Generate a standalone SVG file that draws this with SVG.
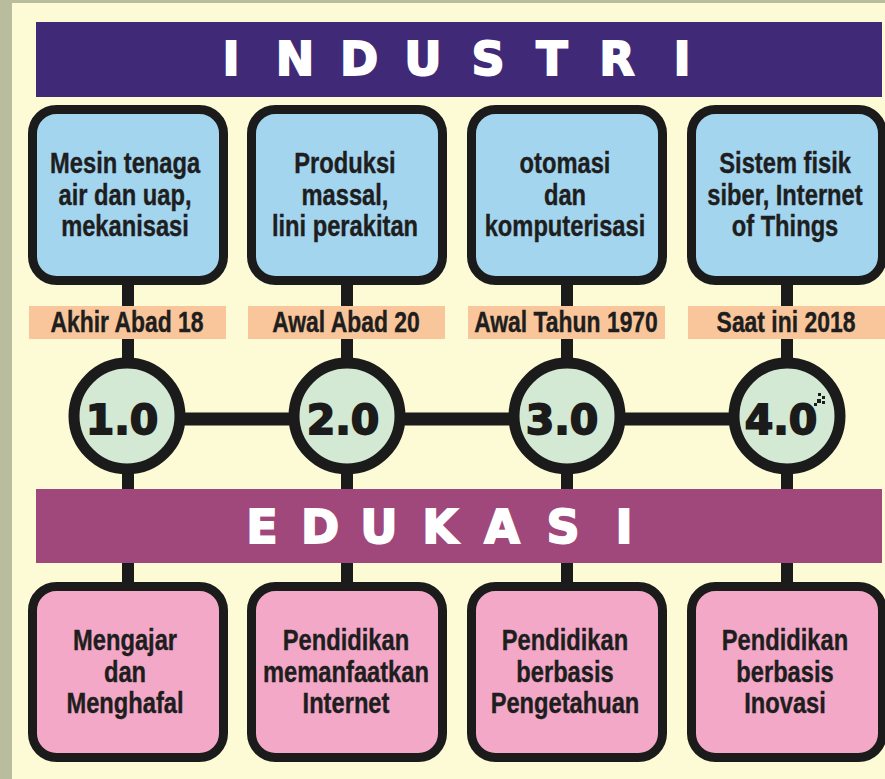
<svg xmlns="http://www.w3.org/2000/svg" width="885" height="779" viewBox="0 0 885 779">
  <style>
    .box { stroke: #1b1b1b; stroke-width: 9; }
    .top { fill: #a4d5ef; }
    .bot { fill: #f4a8c7; }
    .txt { font-family: "Liberation Sans", Arial, sans-serif; font-weight: bold; font-size: 30px; fill: #1e1e1e; stroke: #1e1e1e; stroke-width: 0.4; text-anchor: middle; transform-box: fill-box; transform-origin: center; transform: scaleX(0.79); }
    .date { fill: #f9c69b; }
    .dtxt { font-family: "Liberation Sans", Arial, sans-serif; font-weight: bold; font-size: 29px; fill: #1e1e1e; stroke: #1e1e1e; stroke-width: 0.4; text-anchor: middle; transform-box: fill-box; transform-origin: center; transform: scaleX(0.79); }
    .circ { fill: #d3e9d3; stroke: #1b1b1b; stroke-width: 11; }
    .num { font-family: "DejaVu Sans", sans-serif; font-weight: bold; font-size: 41px; fill: #1b1b1b; stroke: #1b1b1b; stroke-width: 1.8; text-anchor: middle; }
    .head { font-family: "DejaVu Sans", sans-serif; font-weight: bold; font-size: 46px; fill: #ffffff; stroke: #ffffff; stroke-width: 1.8; text-anchor: middle; }
    .conn { stroke: #1b1b1b; fill: none; }
  </style>
  <rect x="0" y="0" width="885" height="779" fill="#b9bd9d"/>
  <rect x="12" y="3" width="873" height="776" fill="#fdfad6"/>

  <g id="connectors">
    <line class="conn" x1="128" y1="285" x2="128" y2="585" stroke-width="12"/>
    <line class="conn" x1="347" y1="285" x2="347" y2="585" stroke-width="12"/>
    <line class="conn" x1="567" y1="285" x2="567" y2="585" stroke-width="12"/>
    <line class="conn" x1="787" y1="285" x2="787" y2="585" stroke-width="12"/>
    <line class="conn" x1="128" y1="419" x2="787" y2="419" stroke-width="13"/>
  </g>

  <g id="industri-bar">
    <rect x="36" y="22" width="846" height="75" fill="#402a78"/>
    <text class="head" x="231 295 359 423 488 552 617 682" y="75">INDUSTRI</text>
  </g>

  <g id="ind1">
    <rect class="box top" x="32.5" y="109.5" width="191" height="171" rx="24"/>
    <text class="txt" x="125" y="173">Mesin tenaga</text>
    <text class="txt" x="125" y="205">air dan uap,</text>
    <text class="txt" x="125" y="236">mekanisasi</text>
  </g>
  <g id="ind2">
    <rect class="box top" x="251.5" y="109.5" width="191" height="171" rx="24"/>
    <text class="txt" x="345" y="173">Produksi</text>
    <text class="txt" x="345" y="205">massal,</text>
    <text class="txt" x="345" y="236">lini perakitan</text>
  </g>
  <g id="ind3">
    <rect class="box top" x="471.5" y="109.5" width="191" height="171" rx="24"/>
    <text class="txt" x="565" y="173">otomasi</text>
    <text class="txt" x="565" y="205">dan</text>
    <text class="txt" x="565" y="236">komputerisasi</text>
  </g>
  <g id="ind4">
    <rect class="box top" x="691.5" y="109.5" width="191" height="171" rx="24"/>
    <text class="txt" x="785" y="173">Sistem fisik</text>
    <text class="txt" x="785" y="205">siber, Internet</text>
    <text class="txt" x="785" y="236">of Things</text>
  </g>

  <g id="date1">
    <rect class="date" x="29" y="306" width="197" height="33"/>
    <text class="dtxt" x="127" y="332">Akhir Abad 18</text>
  </g>
  <g id="date2">
    <rect class="date" x="248" y="306" width="197" height="33"/>
    <text class="dtxt" x="346" y="332">Awal Abad 20</text>
  </g>
  <g id="date3">
    <rect class="date" x="468" y="306" width="197" height="33"/>
    <text class="dtxt" x="566" y="332">Awal Tahun 1970</text>
  </g>
  <g id="date4">
    <rect class="date" x="688" y="306" width="197" height="33"/>
    <text class="dtxt" x="786" y="332">Saat ini 2018</text>
  </g>

  <g id="v1">
    <circle class="circ" cx="127" cy="416" r="53"/>
    <text class="num" x="122" y="434">1.0</text>
  </g>
  <g id="v2">
    <circle class="circ" cx="347" cy="416" r="53"/>
    <text class="num" x="343" y="434">2.0</text>
  </g>
  <g id="v3">
    <circle class="circ" cx="567" cy="416" r="53"/>
    <text class="num" x="562" y="434">3.0</text>
  </g>
  <g id="v4">
    <circle class="circ" cx="787" cy="416" r="53"/>
    <text class="num" x="781" y="434">4.0</text>
    <g fill="#1b1b1b">
      <rect x="818" y="393" width="3" height="3"/>
      <rect x="822" y="396" width="3" height="3"/>
      <rect x="817" y="399" width="4" height="4"/>
      <rect x="822" y="401" width="3" height="3"/>
      <rect x="814" y="403" width="3" height="3"/>
    </g>
  </g>

  <g id="edukasi-bar">
    <rect x="36" y="489" width="846" height="74" fill="#a0477b"/>
    <text class="head" x="262 320 379 440 502 563 624" y="543">EDUKASI</text>
  </g>

  <g id="edu1">
    <rect class="box bot" x="32.5" y="586.5" width="191" height="171" rx="24"/>
    <text class="txt" x="125" y="650">Mengajar</text>
    <text class="txt" x="125" y="682">dan</text>
    <text class="txt" x="125" y="713">Menghafal</text>
  </g>
  <g id="edu2">
    <rect class="box bot" x="251.5" y="586.5" width="191" height="171" rx="24"/>
    <text class="txt" x="346" y="650">Pendidikan</text>
    <text class="txt" x="346" y="682">memanfaatkan</text>
    <text class="txt" x="346" y="713">Internet</text>
  </g>
  <g id="edu3">
    <rect class="box bot" x="471.5" y="586.5" width="191" height="171" rx="24"/>
    <text class="txt" x="565" y="650">Pendidikan</text>
    <text class="txt" x="565" y="682">berbasis</text>
    <text class="txt" x="565" y="713">Pengetahuan</text>
  </g>
  <g id="edu4">
    <rect class="box bot" x="691.5" y="586.5" width="191" height="171" rx="24"/>
    <text class="txt" x="785" y="650">Pendidikan</text>
    <text class="txt" x="785" y="682">berbasis</text>
    <text class="txt" x="785" y="713">Inovasi</text>
  </g>
</svg>
